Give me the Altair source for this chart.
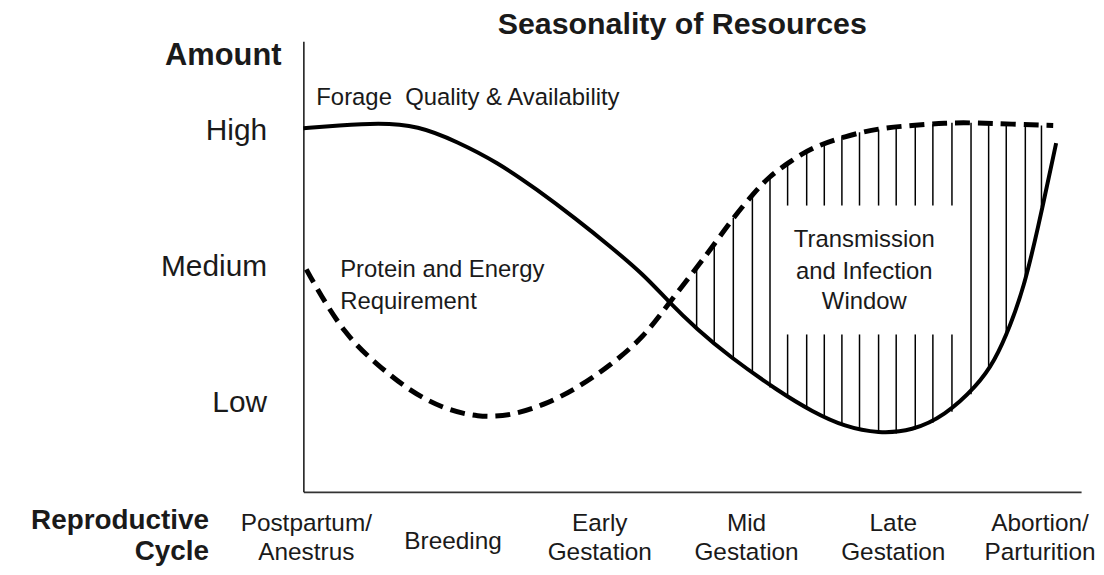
import altair as alt
import pandas as pd

# x: position in the reproductive cycle (0 = Postpartum/Anestrus ... 5 = Abortion/Parturition)
# y: amount (1 = Low, 2 = Medium, 3 = High)
forage_x = [-0.02, 0.22, 0.49, 0.76, 1.03, 1.30, 1.57, 1.84, 2.07, 2.30, 2.47, 2.66, 2.88,
            3.22, 3.45, 3.67, 3.90, 4.13, 4.35, 4.57, 4.69, 4.80, 4.89, 4.98, 5.11]
forage_y = [3.02, 3.04, 3.06, 3.04, 2.92, 2.77, 2.57, 2.35, 2.15, 1.94, 1.74, 1.54, 1.34,
            1.08, 0.93, 0.82, 0.77, 0.79, 0.90, 1.12, 1.30, 1.57, 1.85, 2.25, 2.91]

protein_x = [0.00, 0.05, 0.26, 0.49, 0.71, 0.94, 1.17, 1.39, 1.62, 1.84, 2.07, 2.30, 2.47, 2.66,
             2.79, 2.91, 3.04, 3.15, 3.29, 3.45, 3.67, 3.90, 4.13, 4.35, 4.57, 4.80, 5.09]
protein_y = [1.98, 1.88, 1.50, 1.27, 1.08, 0.95, 0.89, 0.90, 0.98, 1.10, 1.27, 1.48, 1.73, 1.99,
             2.18, 2.36, 2.53, 2.66, 2.77, 2.88, 2.96, 3.02, 3.04, 3.06, 3.06, 3.05, 3.04]

# vertical hatch lines of the transmission window
hatch_x = [2.66, 2.78, 2.91, 3.04, 3.16, 3.28, 3.41, 3.53, 3.65, 3.77,
           3.90, 4.02, 4.15, 4.27, 4.40, 4.53, 4.65, 4.77, 4.90, 5.01]
hatch_top = [1.99, 2.17, 2.36, 2.52, 2.66, 2.77, 2.85, 2.91, 2.96, 2.99,
             3.01, 3.03, 3.04, 3.05, 3.06, 3.06, 3.06, 3.05, 3.05, 3.04]
hatch_bottom = [1.54, 1.44, 1.32, 1.21, 1.11, 1.04, 0.96, 0.89, 0.83, 0.79,
                0.77, 0.77, 0.80, 0.85, 0.93, 1.06, 1.24, 1.49, 1.88, 2.44]
# white label box interrupting the hatch lines
box_x_range = [3.2, 4.45]
box_y_range = [1.50, 2.45]

stage_pos = [0, 1, 2, 3, 4, 5]
stage_line1 = ["Postpartum/", "", "Early", "Mid", "Late", "Abortion/"]
stage_line2 = ["Anestrus", "", "Gestation", "Gestation", "Gestation", "Parturition"]
stage_single = ["", "Breeding", "", "", "", ""]

FONT = "Liberation Sans"
INK = "#1a1a1a"

forage = pd.DataFrame({"x": forage_x, "y": forage_y})
protein = pd.DataFrame({"x": protein_x, "y": protein_y})

segs = []
for hx, ht, hb in zip(hatch_x, hatch_top, hatch_bottom):
    if box_x_range[0] <= hx <= box_x_range[1]:
        segs.append({"x": hx, "y": ht, "y2": box_y_range[1]})
        segs.append({"x": hx, "y": box_y_range[0], "y2": hb})
    else:
        segs.append({"x": hx, "y": ht, "y2": hb})
hatch = pd.DataFrame(segs)

stages = pd.DataFrame({"pos": stage_pos, "l1": stage_line1, "l2": stage_line2, "s": stage_single})

xs = alt.Scale(domain=[-0.02, 5.28], nice=False, zero=False)
ys = alt.Scale(domain=[0.34, 3.66], nice=False, zero=False)

x_axis = alt.Axis(title=None, labels=False, ticks=False, grid=False,
                  domainColor="#333333", domainWidth=2)
y_axis = alt.Axis(title=None, values=[1, 2, 3], ticks=False, tickSize=0, grid=False,
                  labelExpr="datum.value == 3 ? 'High' : (datum.value == 2 ? 'Medium' : 'Low')",
                  labelFont=FONT, labelFontSize=30, labelColor=INK, labelPadding=37,
                  domainColor="#111111", domainWidth=1.5)


def X(f="x"):
    return alt.X(f"{f}:Q", scale=xs, axis=x_axis)


def Y(f="y"):
    return alt.Y(f"{f}:Q", scale=ys, axis=y_axis)


hatch_layer = alt.Chart(hatch).mark_rule(color="black", strokeWidth=1.5).encode(
    x=X(), y=Y(), y2="y2:Q")

forage_layer = alt.Chart(forage).mark_line(
    color="black", strokeWidth=4, interpolate="basis").encode(x=X(), y=Y())

protein_layer = alt.Chart(protein).mark_line(
    color="black", strokeWidth=5, strokeDash=[15, 8], interpolate="basis").encode(x=X(), y=Y())


def txt(text, x, y, size=24, bold=False, align="left"):
    return alt.Chart(pd.DataFrame({"t": [text]})).mark_text(
        font=FONT, fontSize=size, fontWeight="bold" if bold else "normal",
        align=align, baseline="middle", color=INK).encode(
        x=alt.value(x), y=alt.value(y), text="t:N")


def stage_text(field, y):
    return alt.Chart(stages).mark_text(font=FONT, fontSize=24.5, baseline="middle",
                                       color=INK).encode(
        x=X("pos"), y=alt.value(y), text=f"{field}:N")


chart = alt.layer(
    hatch_layer, forage_layer, protein_layer,
    txt("Seasonality of Resources", 381, -16, size=30.5, bold=True, align="center"),
    txt("Amount", -22, 15, size=31, bold=True, align="right"),
    txt("Forage\u00a0 Quality & Availability", 13, 57),
    txt("Protein and Energy", 37, 230),
    txt("Requirement", 37, 262),
    txt("Transmission", 564, 200, align="center"),
    txt("and Infection", 564, 232, align="center"),
    txt("Window", 564, 262, align="center"),
    txt("Reproductive", -95, 482, size=28, bold=True, align="right"),
    txt("Cycle", -95, 513, size=28, bold=True, align="right"),
    stage_text("l1", 485), stage_text("l2", 514), stage_text("s", 503),
).properties(
    width=782, height=453,
    padding={"left": 297, "top": 32, "right": 15, "bottom": 74},
    autosize=alt.AutoSizeParams(type="none"),
    background="white",
).configure_view(stroke="transparent")

chart.save("out.html", embed_options={"renderer": "svg", "actions": False})
